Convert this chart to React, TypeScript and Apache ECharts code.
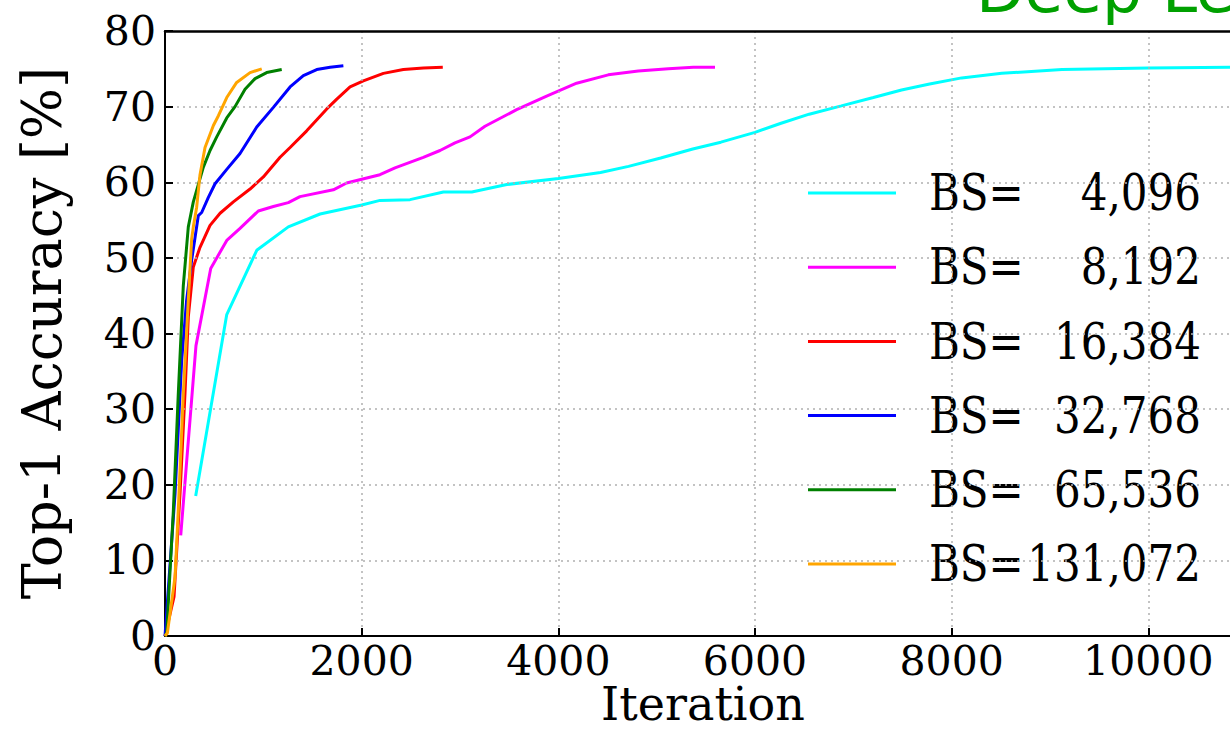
import React, { useEffect, useRef } from "react";
import * as echarts from "echarts";

// [iteration, top-1 accuracy %]
const bs4096: [number, number][] = [
  [312, 18.5], [628, 42.5], [933, 51.0], [1254, 54.1], [1577, 55.8], [2001, 57.0],
  [2187, 57.6], [2492, 57.7], [2831, 58.7], [3120, 58.7], [3476, 59.7], [4001, 60.5],
  [4429, 61.3], [4714, 62.1], [5041, 63.2], [5367, 64.4], [5653, 65.3], [6000, 66.6],
  [6265, 67.8], [6551, 69.0], [6878, 70.1], [7204, 71.2], [7490, 72.2], [7776, 73.0],
  [8102, 73.8], [8510, 74.4], [9122, 74.9], [10000, 75.1], [10829, 75.2], [11250, 75.2],
];
const bs8192: [number, number][] = [
  [160, 13.3], [315, 38.4], [465, 48.6], [628, 52.3], [763, 53.9], [949, 56.2],
  [1102, 56.8], [1254, 57.3], [1373, 58.1], [1712, 59.0], [1847, 59.9], [2000, 60.4],
  [2186, 61.0], [2339, 61.9], [2627, 63.3], [2797, 64.2], [2949, 65.2], [3102, 66.0],
  [3254, 67.4], [3576, 69.6], [3881, 71.4], [4186, 73.1], [4508, 74.2], [4813, 74.7],
  [5119, 75.0], [5373, 75.2], [5593, 75.2],
];
const bs16384: [number, number][] = [
  [0, 0], [92, 5.2], [153, 18.9], [203, 32.0], [237, 42.2], [288, 48.8], [356, 51.4],
  [458, 54.3], [560, 55.9], [695, 57.4], [865, 59.1], [1000, 60.7], [1170, 63.3],
  [1272, 64.6], [1441, 66.8], [1645, 69.7], [1747, 71.0], [1882, 72.6], [2017, 73.4],
  [2221, 74.4], [2424, 74.9], [2628, 75.1], [2825, 75.2],
];
const bs32768: [number, number][] = [
  [0, 0], [102, 18.8], [170, 36.5], [220, 44.4], [271, 49.7], [339, 55.6], [373, 56.0],
  [441, 58.0], [509, 59.8], [628, 61.7], [763, 63.8], [933, 67.3], [1102, 69.9],
  [1272, 72.6], [1407, 74.1], [1543, 74.9], [1679, 75.2], [1814, 75.4],
];
const bs65536: [number, number][] = [
  [0, 0], [17, 0.4], [85, 16.6], [135, 32.0], [186, 46.3], [237, 54.1], [288, 57.4],
  [390, 62.0], [458, 64.2], [526, 66.0], [628, 68.5], [712, 70.0], [814, 72.3],
  [916, 73.7], [1034, 74.5], [1187, 74.9],
];
const bs131072: [number, number][] = [
  [0, 0], [24, 0.4], [102, 7.8], [135, 16.6], [186, 32.0], [237, 44.4], [271, 52.5],
  [288, 54.1], [322, 56.7], [356, 61.0], [407, 64.6], [492, 67.5], [543, 68.8],
  [628, 71.2], [729, 73.2], [865, 74.5], [984, 75.0],
];

const seriesData = [bs4096, bs8192, bs16384, bs32768, bs65536, bs131072];
const batchLabels = ["4,096", "8,192", "16,384", "32,768", "65,536", "131,072"];
const seriesColors = ["#00ffff", "#ff00ff", "#ff0000", "#0000ff", "#008000", "#ffa500"];

const xTicks = { min: 0, max: 12000, interval: 2000 };
const yTicks = { min: 0, max: 80, interval: 10 };

const FONT = "'DejaVu Serif', serif";

export default function App() {
  const ref = useRef<HTMLDivElement>(null);
  useEffect(() => {
    document.body.style.margin = "0";
    const chart = echarts.init(ref.current!, undefined, { renderer: "svg" });
    const legendGraphics: any[] = [];
    batchLabels.forEach((lab, i) => {
      const y = 193 + i * 74.2;
      legendGraphics.push({
        type: "line",
        shape: { x1: 808, y1: y, x2: 896, y2: y },
        style: { stroke: seriesColors[i], lineWidth: 3 },
      });
      legendGraphics.push({
        type: "text",
        x: 929,
        y: y,
        scaleY: 1.18,
        style: { text: "BS=", font: `42px ${FONT}`, fill: "#000", align: "left", verticalAlign: "middle" },
      });
      legendGraphics.push({
        type: "text",
        x: 1201,
        y: y,
        scaleY: 1.18,
        style: { text: lab, font: `42px ${FONT}`, fill: "#000", align: "right", verticalAlign: "middle" },
      });
    });
    chart.setOption({
      animation: false,
      backgroundColor: "#ffffff",
      grid: {
        left: 165,
        top: 31,
        bottom: 112,
        width: 1180,
        show: false,
        outerBoundsMode: "none",
        containLabel: false,
      },
      xAxis: [
        {
          type: "value",
          position: "bottom",
          min: xTicks.min,
          max: xTicks.max,
          interval: xTicks.interval,
          axisLine: { show: true, onZero: false, lineStyle: { color: "#000", width: 2 } },
          axisTick: { show: true, inside: true, length: 8, lineStyle: { color: "#000", width: 2 } },
          axisLabel: {
            color: "#000", fontFamily: FONT, fontSize: 41, margin: 7, lineHeight: 36,
            showMaxLabel: false, formatter: (v: number) => String(v),
          },
          splitLine: { show: true, lineStyle: { color: "#b0b0b0", type: [2, 4], width: 1.5 } },
          z: 5,
        },
        {
          type: "value",
          position: "top",
          min: xTicks.min,
          max: xTicks.max,
          interval: xTicks.interval,
          axisLine: { show: true, onZero: false, lineStyle: { color: "#000", width: 2.5 } },
          axisTick: { show: false },
          axisLabel: { show: false },
          splitLine: { show: false },
          z: 5,
        },
      ],
      yAxis: {
        type: "value",
        min: yTicks.min,
        max: yTicks.max,
        interval: yTicks.interval,
        axisLine: { show: true, onZero: false, lineStyle: { color: "#000", width: 2 } },
        axisTick: { show: true, inside: true, length: 8, lineStyle: { color: "#000", width: 2 } },
        axisLabel: { color: "#000", fontFamily: FONT, fontSize: 41, margin: 9, formatter: (v: number) => String(v) },
        splitLine: { show: true, showMaxLine: false, lineStyle: { color: "#b0b0b0", type: [2, 4], width: 1.5 } },
        z: 5,
      },
      series: seriesData.map((d, i) => ({
        type: "line",
        name: "BS=" + batchLabels[i],
        xAxisIndex: 0,
        data: d,
        showSymbol: false,
        symbol: "none",
        lineStyle: { color: seriesColors[i], width: 3 },
        itemStyle: { color: seriesColors[i] },
        z: 2 + i,
      })),
      graphic: [
        {
          type: "text",
          x: 703,
          y: 704,
          style: { text: "Iteration", font: `46px ${FONT}`, fill: "#000", align: "center", verticalAlign: "middle", lineHeight: 40 },
        },
        {
          type: "text",
          x: 42,
          y: 333,
          rotation: Math.PI / 2,
          style: { text: "Top-1 Accuracy [%]", font: `54px ${FONT}`, fill: "#000", align: "center", verticalAlign: "middle" },
        },
        {
          type: "text",
          x: 976,
          y: -10,
          style: { text: "Deep Learning", font: "63px 'DejaVu Sans', sans-serif", fill: "#00a000", align: "left", verticalAlign: "middle" },
        },
        ...legendGraphics,
      ],
    });
    return () => chart.dispose();
  }, []);
  return <div ref={ref} style={{ width: 1230, height: 748 }} />;
}
